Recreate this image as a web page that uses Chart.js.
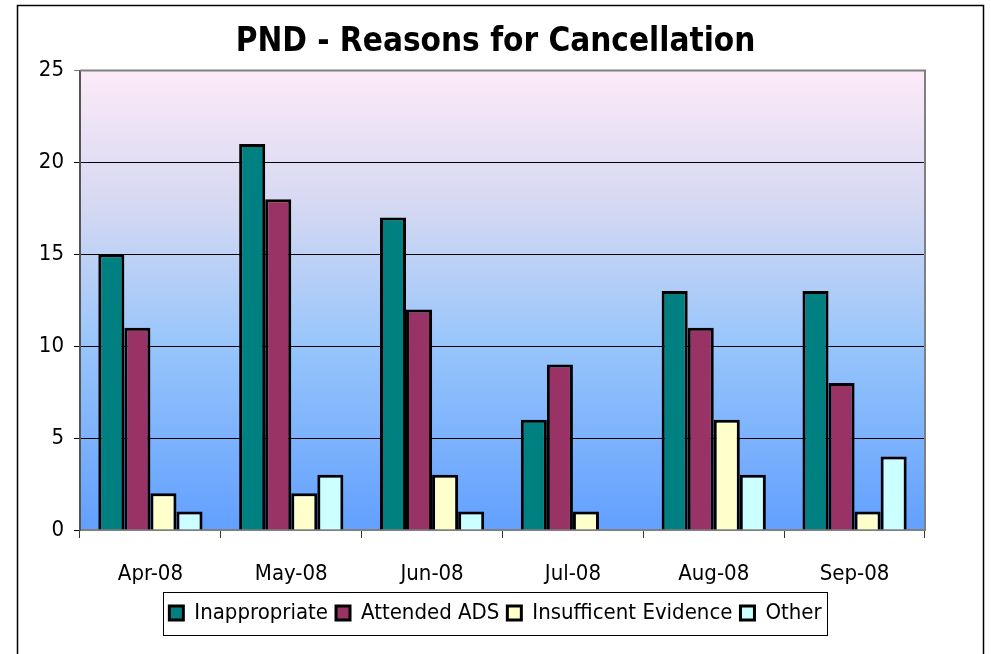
<!DOCTYPE html>
<html>
<head>
<meta charset="utf-8">
<script src="https://cdn.jsdelivr.net/npm/chart.js@4.4.1/dist/chart.umd.min.js"></script>
<style>
  html, body { margin: 0; padding: 0; background: #fff; }
  #wrap { width: 991px; height: 654px; }
</style>
</head>
<body>
<div id="wrap"><canvas id="chart-pnd" width="991" height="654"></canvas></div>
<script>
// chart data
const months = ['Apr-08', 'May-08', 'Jun-08', 'Jul-08', 'Aug-08', 'Sep-08'];
const inappropriate = [15, 21, 17, 6, 13, 13];
const attendedADS = [11, 18, 12, 9, 11, 8];
const insufficentEvidence = [2, 2, 3, 1, 6, 1];
const other = [1, 3, 1, 0, 3, 4];

const FONT = '"Liberation Sans Narrow", "Arial Narrow", "DejaVu Sans Condensed", "Liberation Sans", sans-serif';

// Plot background gradient + outer frame + legend box
const decorations = {
    id: 'decorations',
    beforeDraw(chart) {
        const { ctx, chartArea: a } = chart;
        ctx.save();
        const g = ctx.createLinearGradient(0, a.top, 0, a.bottom);
        g.addColorStop(0, '#fdeaf8');
        g.addColorStop(0.3, '#d4d8f2');
        g.addColorStop(0.6, '#97c5fb');
        g.addColorStop(1, '#62a0ff');
        ctx.fillStyle = g;
        ctx.fillRect(a.left, a.top, a.right - a.left, a.bottom - a.top);
        ctx.restore();
    },
    afterDraw(chart) {
        const { ctx, chartArea: a } = chart;
        ctx.save();
        // gray top / right plot border
        ctx.strokeStyle = '#808080';
        ctx.lineWidth = 2;
        ctx.beginPath();
        ctx.moveTo(a.left, a.top);
        ctx.lineTo(a.right, a.top);
        ctx.lineTo(a.right, a.bottom);
        ctx.stroke();
        // outer frame
        ctx.strokeStyle = '#000';
        ctx.lineWidth = 1.5;
        ctx.strokeRect(17.5, 5.5, 966, 700);
        // legend frame
        const boxes = chart.legend.legendHitBoxes;
        if (boxes && boxes.length) {
            const l = Math.min(...boxes.map(b => b.left)) - 6;
            const r = Math.max(...boxes.map(b => b.left + b.width)) + 6;
            const t = Math.min(...boxes.map(b => b.top)) - 10;
            const bt = Math.max(...boxes.map(b => b.top + b.height)) + 11;
            ctx.lineWidth = 1;
            ctx.strokeStyle = '#000';
            ctx.strokeRect(Math.round(l) + 0.5, Math.round(t) + 0.5, Math.round(r - l), Math.round(bt - t));
        }
        ctx.restore();
    }
};

function series(label, data, color) {
    return {
        label: label,
        data: data,
        backgroundColor: color,
        borderColor: '#000',
        borderWidth: 3,
        borderSkipped: 'bottom'
    };
}

new Chart(document.getElementById('chart-pnd'), {
    type: 'bar',
    data: {
        labels: months,
        datasets: [
            series('Inappropriate', inappropriate, '#008080'),
            series('Attended ADS', attendedADS, '#993366'),
            series('Insufficent Evidence', insufficentEvidence, '#ffffcc'),
            series('Other', other, '#ccffff')
        ]
    },
    options: {
        responsive: false,
        animation: false,
        layout: { padding: { left: 0, right: 0, top: 0, bottom: 20 } },
        datasets: {
            bar: { categoryPercentage: 0.74, barPercentage: 1.0 }
        },
        scales: {
            x: {
                grid: { display: true, drawOnChartArea: false, drawTicks: true, tickLength: 8, color: '#333', offset: true },
                border: { display: true, color: '#808080', width: 2 },
                ticks: { color: '#000', font: { family: FONT, size: 22 }, padding: 23 },
                afterFit(scale) { scale.height = 64; }
            },
            y: {
                min: 0,
                max: 25,
                ticks: { stepSize: 5, color: '#000', font: { family: FONT, size: 22 }, padding: 10 },
                grid: {
                    drawTicks: true,
                    tickLength: 6,
                    color: ctx => ctx.tick && ctx.tick.value === 25 ? '#808080' : '#000',
                    lineWidth: 1
                },
                border: { display: true, color: '#555', width: 2 },
                afterFit(scale) { scale.width = 80; }
            },
            // empty right-hand spacer so title and legend centre on the full width
            spacer: {
                type: 'linear',
                position: 'right',
                display: true,
                ticks: { display: false },
                grid: { display: false, drawOnChartArea: false, drawTicks: false },
                border: { display: false },
                afterFit(scale) { scale.width = 66; }
            }
        },
        plugins: {
            title: {
                display: true,
                text: 'PND - Reasons for Cancellation',
                color: '#000',
                font: { family: FONT, size: 33, weight: 'bold' },
                padding: { top: 23, bottom: 8 }
            },
            legend: {
                position: 'bottom',
                labels: {
                    color: '#000',
                    font: { family: FONT, size: 22 },
                    boxWidth: 14,
                    boxHeight: 14,
                    padding: 8
                }
            },
            tooltip: { enabled: false }
        }
    },
    plugins: [decorations]
});
</script>
</body>
</html>
